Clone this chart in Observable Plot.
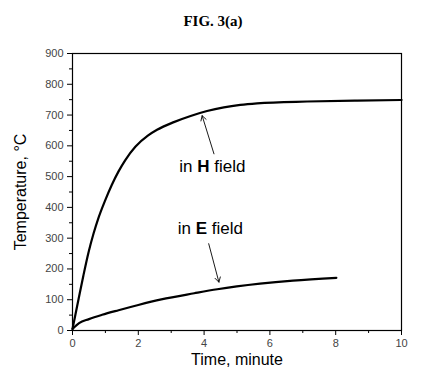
<!DOCTYPE html>
<html>
<head>
<meta charset="utf-8">
<script src="https://cdn.jsdelivr.net/npm/d3@7"></script>
<script src="https://cdn.jsdelivr.net/npm/@observablehq/plot@0.6"></script>
<style>
  html, body { margin: 0; padding: 0; background: #fff; }
  #title { height: 38px; width: 426px; text-align: center; font-family: "Liberation Serif", "Times New Roman", serif; font-weight: bold; font-size: 15px; line-height: 42px; color: #000; }
</style>
</head>
<body>
<div id="title"></div>
<div id="chart"></div>
<script>
const titleText = "FIG. 3(a)";
const xLabel = "Time, minute";
const yLabel = "Temperature, °C";

const hTime = [0, 0.18, 0.33, 0.49, 0.64, 0.79, 0.99, 1.19, 1.40, 1.60, 1.91, 2.29, 2.57, 3.08, 3.59, 4.09, 4.60, 5.1, 5.61, 7.13, 8.65, 10];
const hTemp = [5, 100, 178, 255, 315, 366, 422, 472, 517, 553, 597, 633, 652, 677, 697, 713, 725, 733, 738, 744, 747, 749];

const eTime = [0, 0.2, 0.5, 0.9, 1.4, 2.0, 2.7, 3.7, 4.4, 5.7, 6.7, 8.02];
const eTemp = [5, 24, 37, 51, 66, 83, 101, 121, 134, 152, 162, 171];

const xTicks = [0, 2, 4, 6, 8, 10];
const xMinor = [1, 3, 5, 7, 9];
const yTicks = [0, 100, 200, 300, 400, 500, 600, 700, 800, 900];
const yMinor = [50, 150, 250, 350, 450, 550, 650, 750, 850];

const labelNames = ["in H field", "in E field"];
const labelX = [4.25, 4.19];
const labelY = [533, 330];
const arrowX1 = [4.3, 4.14];
const arrowY1 = [574, 282];
const arrowX2 = [3.94, 4.45];
const arrowY2 = [698, 157];

document.getElementById("title").textContent = titleText;

const hData = hTime.map((t, i) => ({t, v: hTemp[i]}));
const eData = eTime.map((t, i) => ({t, v: eTemp[i]}));
const labels = labelNames.map((s, i) => ({s, x: labelX[i], y: labelY[i]}));
const arrows = arrowX1.map((x1, i) => ({x1, y1: arrowY1[i], x2: arrowX2[i], y2: arrowY2[i]}));

const chart = Plot.plot({
  width: 426,
  height: 343,
  marginTop: 15,
  marginBottom: 51,
  marginLeft: 72,
  marginRight: 25,
  style: { fontFamily: "'Liberation Sans', Arial, sans-serif", fontSize: "11px", color: "#000", background: "#fff" },
  x: { domain: [0, 10] },
  y: { domain: [0, 900] },
  marks: [
    Plot.frame({ stroke: "#000", strokeWidth: 1.2 }),
    Plot.axisX({ ticks: xMinor, tickSize: 3, text: null, label: null, strokeWidth: 1 }),
    Plot.axisY({ ticks: yMinor, tickSize: 3, text: null, label: null, strokeWidth: 1 }),
    Plot.axisX({ ticks: xTicks, tickSize: 5, tickPadding: 4, label: xLabel, labelAnchor: "center", labelArrow: "none", labelOffset: 34, fill: "#444", strokeWidth: 1 }),
    Plot.axisY({ ticks: yTicks, tickSize: 5, tickPadding: 4, label: yLabel, labelAnchor: "center", labelArrow: "none", labelOffset: 58, fill: "#444", strokeWidth: 1 }),
    Plot.line(hData, { x: "t", y: "v", stroke: "#000", strokeWidth: 2.2, curve: "monotone-x" }),
    Plot.line(eData, { x: "t", y: "v", stroke: "#000", strokeWidth: 2.2, curve: "monotone-x" }),
    Plot.arrow(arrows, { x1: "x1", y1: "y1", x2: "x2", y2: "y2", stroke: "#000", strokeWidth: 0.9, headLength: 9, bend: 0 }),
    Plot.text(labels, { x: "x", y: "y", text: "s", fontSize: 17, fill: "#000", className: "annot" })
  ]
});
document.getElementById("chart").appendChild(chart);

chart.querySelectorAll("g[aria-label='x-axis label'] text, g[aria-label='y-axis label'] text").forEach(t => {
  t.setAttribute("font-size", "16");
  t.style.fontSize = "16px";
  t.setAttribute("fill", "#000");
});
chart.querySelectorAll(".annot text").forEach(t => {
  const s = t.textContent;
  const m = s.match(/^(in )(\S)( field)$/);
  if (m) {
    t.textContent = "";
    const ns = "http://www.w3.org/2000/svg";
    const a = document.createElementNS(ns, "tspan"); a.textContent = m[1];
    const b = document.createElementNS(ns, "tspan"); b.textContent = m[2]; b.setAttribute("font-weight", "bold");
    const c = document.createElementNS(ns, "tspan"); c.textContent = m[3];
    t.append(a, b, c);
  }
});
</script>
</body>
</html>
